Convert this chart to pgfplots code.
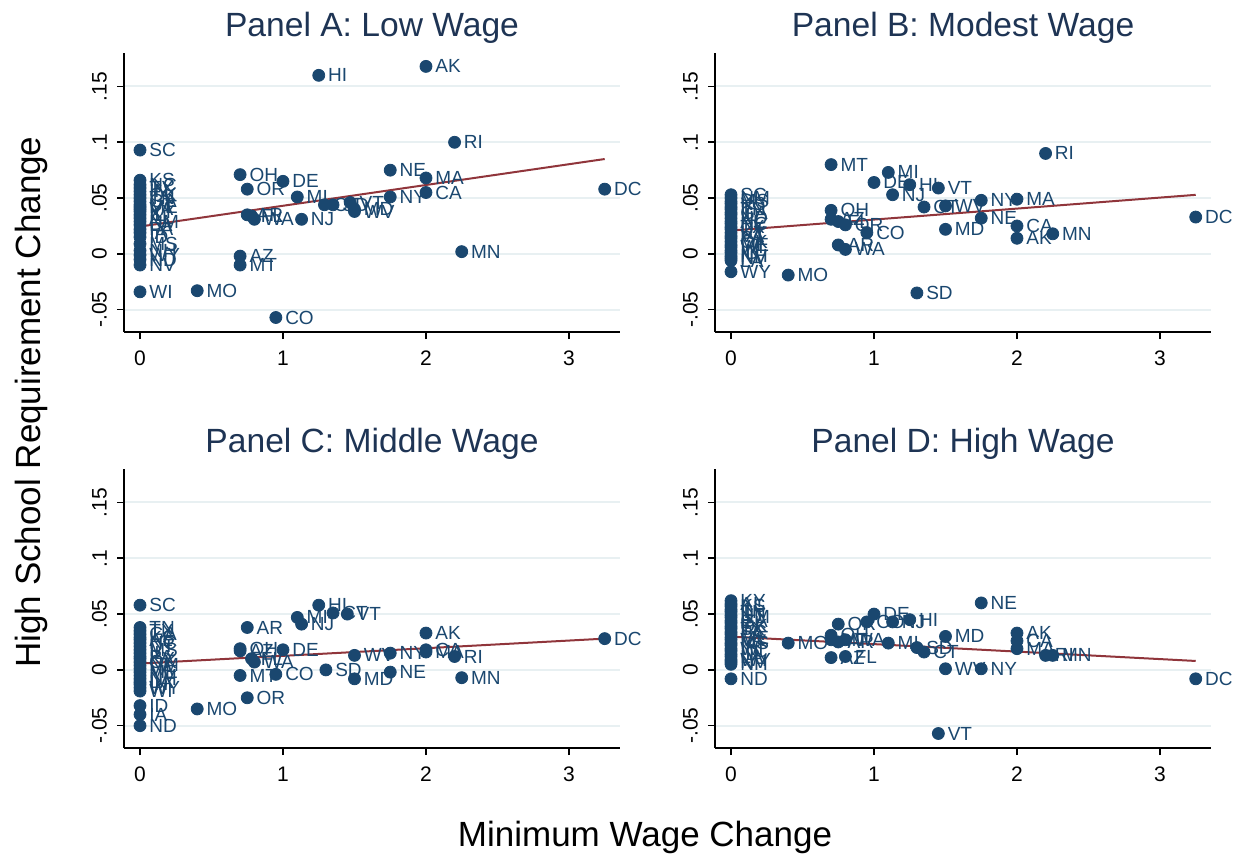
\documentclass[border=0pt]{standalone}
\usepackage{pgfplots}
\pgfplotsset{compat=1.18}
\usepackage{pgfplotstable}
\usepackage{fontspec}
\setmainfont{Liberation Sans}
\definecolor{stnavy}{RGB}{26,71,111}
\definecolor{stmaroon}{RGB}{144,53,59}
\definecolor{stgrid}{RGB}{232,240,242}
\definecolor{sttitle}{RGB}{30,52,84}

\pgfplotstableread{
x y label
0 0.093 SC
0 0.066 KS
0 0.062 NC
0 0.059 TX
0 0.056 IN
0 0.053 OK
0 0.050 TN
0 0.047 GA
0 0.044 UT
0 0.042 ME
0 0.040 VA
0 0.038 KY
0 0.035 IL
0 0.032 AL
0 0.029 NM
0 0.026 LA
0 0.022 PA
0 0.019 IA
0 0.015 ID
0 0.009 MS
0 0.003 NH
0 -0.001 WY
0 -0.005 ND
0 -0.010 NV
0 -0.034 WI
1.25 0.160 HI
2.00 0.168 AK
2.20 0.100 RI
1.75 0.075 NE
2.00 0.068 MA
2.00 0.055 CA
1.75 0.051 NY
3.25 0.058 DC
2.25 0.002 MN
0.70 0.071 OH
0.75 0.058 OR
1.00 0.065 DE
1.10 0.051 MI
0.75 0.035 AR
0.78 0.034 FL
0.80 0.031 WA
1.13 0.031 NJ
0.70 -0.002 AZ
0.70 -0.010 MT
0.40 -0.033 MO
0.95 -0.057 CO
1.29 0.044 CT
1.35 0.044 SD
1.47 0.046 VT
1.50 0.038 WV
1.50 0.040 MD
}\dataA

\pgfplotstableread{
x y label
0 0.053 SC
0 0.050 NM
0 0.047 MS
0 0.045 KS
0 0.042 IA
0 0.040 TN
0 0.037 GA
0 0.035 IL
0 0.032 ND
0 0.029 AL
0 0.027 NC
0 0.024 TX
0 0.022 UT
0 0.019 KY
0 0.016 VA
0 0.014 PA
0 0.011 OK
0 0.008 ME
0 0.006 WI
0 0.003 IN
0 0.001 ID
0 -0.002 NH
0 -0.004 NV
0 -0.006 LA
0 -0.016 WY
0.70 0.080 MT
1.10 0.073 MI
1.00 0.064 DE
1.25 0.062 HI
1.45 0.059 VT
1.13 0.053 NJ
1.35 0.042 CT
1.50 0.043 WV
0.70 0.039 OH
0.70 0.031 AZ
0.75 0.029 FL
0.80 0.026 OR
0.95 0.019 CO
0.75 0.008 AR
0.80 0.004 WA
0.40 -0.019 MO
1.30 -0.035 SD
1.50 0.022 MD
1.75 0.048 NY
2.00 0.049 MA
1.75 0.032 NE
2.00 0.025 CA
2.00 0.014 AK
2.25 0.018 MN
2.20 0.090 RI
3.25 0.033 DC
}\dataB

\pgfplotstableread{
x y label
0 0.058 SC
0 0.038 TN
0 0.035 TX
0 0.032 GA
0 0.029 KS
0 0.027 AL
0 0.024 NC
0 0.021 UT
0 0.018 MS
0 0.015 IL
0 0.012 PA
0 0.010 KY
0 0.007 OK
0 0.004 NM
0 0.001 VA
0 -0.002 ME
0 -0.005 NV
0 -0.008 NH
0 -0.011 LA
0 -0.013 IN
0 -0.016 WY
0 -0.019 WI
0 -0.032 ID
0 -0.040 IA
0 -0.050 ND
0.75 0.038 AR
1.10 0.047 MI
1.13 0.041 NJ
1.25 0.058 HI
1.35 0.051 CT
1.45 0.050 VT
0.70 0.019 OH
0.70 0.017 AZ
1.00 0.018 DE
0.78 0.010 FL
0.80 0.007 WA
0.70 -0.005 MT
0.95 -0.004 CO
1.30 0.000 SD
1.50 0.013 WV
1.50 -0.008 MD
0.75 -0.025 OR
0.40 -0.035 MO
2.00 0.033 AK
1.75 0.015 NY
2.00 0.018 CA
2.00 0.016 MA
2.20 0.012 RI
1.75 -0.002 NE
2.25 -0.007 MN
3.25 0.028 DC
}\dataC

\pgfplotstableread{
x y label
0 0.062 KY
0 0.059 AL
0 0.057 KS
0 0.054 IL
0 0.052 TN
0 0.049 UT
0 0.047 NM
0 0.044 GA
0 0.042 IN
0 0.039 OK
0 0.037 TX
0 0.034 SC
0 0.032 PA
0 0.029 ME
0 0.027 VA
0 0.024 MS
0 0.022 IA
0 0.019 WI
0 0.017 NC
0 0.014 ID
0 0.012 LA
0 0.009 WY
0 0.007 NV
0 0.005 NH
0 -0.008 ND
0.40 0.024 MO
0.75 0.041 OR
1.00 0.050 DE
0.95 0.043 CO
1.13 0.043 NJ
1.25 0.045 HI
0.70 0.031 OH
0.70 0.027 MT
0.75 0.025 AR
0.80 0.027 WA
0.70 0.011 AZ
0.80 0.012 FL
1.10 0.024 MI
1.30 0.020 SD
1.35 0.016 CT
1.50 0.030 MD
1.50 0.001 WV
1.45 -0.057 VT
1.75 0.060 NE
1.75 0.001 NY
2.00 0.033 AK
2.00 0.026 CA
2.00 0.019 MA
2.20 0.013 RI
2.25 0.013 MN
3.25 -0.008 DC
}\dataD

\pgfplotsset{
  panel/.style={
    scale only axis, width=248pt, height=139.5pt,
    anchor=south west,
    xmin=-0.112, xmax=3.357, ymin=-0.07, ymax=0.18,
    axis x line*=bottom, axis y line*=left,
    axis line style={line width=0.8pt, black, -},
    tick align=outside, major tick length=3.5pt,
    tick style={line width=0.8pt, black},
    xtick={0,1,2,3}, xticklabels={0,1,2,3},
    ytick={-0.05,0,0.05,0.1,0.15}, yticklabels={-.05,0,.05,.1,.15},
    yticklabel style={rotate=90, anchor=south},
    xticklabel shift=2.5pt, yticklabel shift=1.5pt,
    ymajorgrids, grid style={stgrid, line width=1pt},
    ticklabel style={font=\fontsize{10.5}{12}\selectfont, black},
    title style={at={(0.5,1)}, anchor=base, yshift=2.5pt,
      font=\fontsize{16.8}{19}\selectfont, text=sttitle},
    clip=false,
  },
  sc/.style={only marks, mark=*, mark size=3pt,
    mark options={draw=stnavy, fill=stnavy},
    point meta=explicit symbolic, nodes near coords,
    every node near coord/.append style={anchor=west, xshift=4.5pt,
      inner sep=0pt, font=\fontsize{9.5}{11}\selectfont, text=stnavy}},
  fit/.style={no marks, stmaroon, line width=1pt},
}

\begin{document}
\begin{tikzpicture}
\path[use as bounding box] (0,0) rectangle (620.5pt,429.5pt);

\begin{axis}[panel, at={(62pt,263.5pt)}, title={Panel A: Low Wage}]
\addplot[sc] table[x=x, y=y, meta=label] {\dataA};
\addplot[fit] coordinates {(0,0.0245) (3.25,0.085)};
\end{axis}

\begin{axis}[panel, at={(357.5pt,263.5pt)}, title={Panel B: Modest Wage}]
\addplot[sc] table[x=x, y=y, meta=label] {\dataB};
\addplot[fit] coordinates {(0,0.0209) (3.25,0.0529)};
\end{axis}

\begin{axis}[panel, at={(62pt,55.5pt)}, title={Panel C: Middle Wage}]
\addplot[sc] table[x=x, y=y, meta=label] {\dataC};
\addplot[fit] coordinates {(0,0.0057) (3.25,0.028)};
\end{axis}

\begin{axis}[panel, at={(357.5pt,55.5pt)}, title={Panel D: High Wage}]
\addplot[sc] table[x=x, y=y, meta=label] {\dataD};
\addplot[fit] coordinates {(0,0.0298) (3.25,0.008)};
\end{axis}

\node[rotate=90, font=\fontsize{17.5}{20}\selectfont] at (15.5pt,228.5pt) {High School Requirement Change};
\node[font=\fontsize{17.5}{20}\selectfont] at (322.5pt,11pt) {Minimum Wage Change};
\end{tikzpicture}
\end{document}
